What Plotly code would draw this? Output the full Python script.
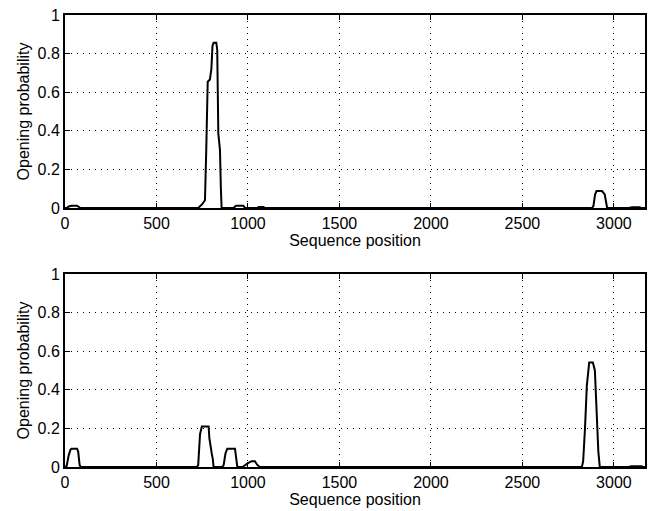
import plotly.graph_objects as go

# Top panel: opening probability vs sequence position
top_x = [0, 10, 20, 35, 65, 75, 85, 700, 728, 750, 765, 772, 780, 792, 800, 806, 812, 827, 832, 838, 847, 852, 856,
         910, 920, 935, 975, 984, 1040, 1050, 1060, 1085, 1093,
         2880, 2888, 2897, 2905, 2935, 2950, 2957, 2963, 3080, 3100, 3140, 3150, 3170]
top_y = [0, 0, 0.008, 0.012, 0.012, 0.006, 0, 0, 0, 0.02, 0.04, 0.3, 0.654, 0.666, 0.72, 0.84, 0.856, 0.856, 0.82, 0.386, 0.3, 0.1, 0,
         0, 0, 0.012, 0.012, 0, 0, 0, 0.005, 0.005, 0,
         0, 0.01, 0.07, 0.088, 0.088, 0.07, 0.03, 0, 0, 0.004, 0.004, 0, 0]

# Bottom panel
bot_x = [0, 9, 20, 30, 36, 66, 72, 80, 86, 720, 728, 738, 748, 785, 789, 795, 802, 808, 812,
         860, 867, 877, 887, 929, 935, 942, 970, 980, 1000, 1020, 1038, 1050, 1065,
         2825, 2832, 2842, 2852, 2865, 2885, 2896, 2905, 2915, 2923,
         3080, 3095, 3150, 3160, 3170]
bot_y = [0, 0.005, 0.06, 0.09, 0.095, 0.095, 0.08, 0.01, 0, 0, 0.01, 0.17, 0.21, 0.21, 0.15, 0.1, 0.07, 0.04, 0,
         0, 0.01, 0.07, 0.095, 0.095, 0.06, 0, 0, 0.008, 0.02, 0.03, 0.03, 0.012, 0,
         0, 0.03, 0.2, 0.42, 0.542, 0.542, 0.5, 0.3, 0.08, 0,
         0, 0.004, 0.004, 0, 0]

x_ticks = [0, 500, 1000, 1500, 2000, 2500, 3000]
y_ticks = [0, 0.2, 0.4, 0.6, 0.8, 1]
x_title = "Sequence position"
y_title = "Opening probability"

W, H = 656, 511
fig = go.Figure()
fig.add_trace(go.Scatter(x=top_x, y=top_y, mode="lines", line=dict(color="black", width=2),
                         xaxis="x", yaxis="y", showlegend=False))
fig.add_trace(go.Scatter(x=bot_x, y=bot_y, mode="lines", line=dict(color="black", width=2),
                         xaxis="x2", yaxis="y2", showlegend=False))

font = dict(family="Liberation Sans, Arial, sans-serif", size=16, color="black")
xd = [65 / W, 645 / W]
common_x = dict(range=[0, 3170], tickvals=x_ticks, showline=True, linecolor="black", linewidth=2,
                mirror="ticks", ticks="inside", ticklen=5, tickcolor="black", tickwidth=1,
                showgrid=True, gridcolor="black", gridwidth=1, griddash="1px,5px",
                zeroline=False, tickfont=font, domain=xd, automargin=False,
                title=dict(text=x_title, font=font, standoff=0))
common_y = dict(range=[0, 1], tickvals=y_ticks, showline=True, linecolor="black", linewidth=2,
                mirror="ticks", ticks="inside", ticklen=5, tickcolor="black", tickwidth=1,
                showgrid=True, gridcolor="black", gridwidth=1, griddash="1px,5px",
                zeroline=False, tickfont=font, automargin=False,
                title=dict(text=y_title, font=font, standoff=4))

fig.update_layout(
    width=W, height=H, margin=dict(l=0, r=0, t=0, b=0),
    paper_bgcolor="white", plot_bgcolor="white",
    xaxis=dict(**common_x, anchor="y"),
    yaxis=dict(**common_y, domain=[1 - 208 / H, 1 - 15 / H], anchor="x"),
    xaxis2=dict(**common_x, anchor="y2"),
    yaxis2=dict(**common_y, domain=[1 - 467 / H, 1 - 274 / H], anchor="x2"),
)
fig.write_html("out.html", config={"displayModeBar": False},
               post_script="document.body.style.margin='0';document.body.style.overflow='hidden';")
